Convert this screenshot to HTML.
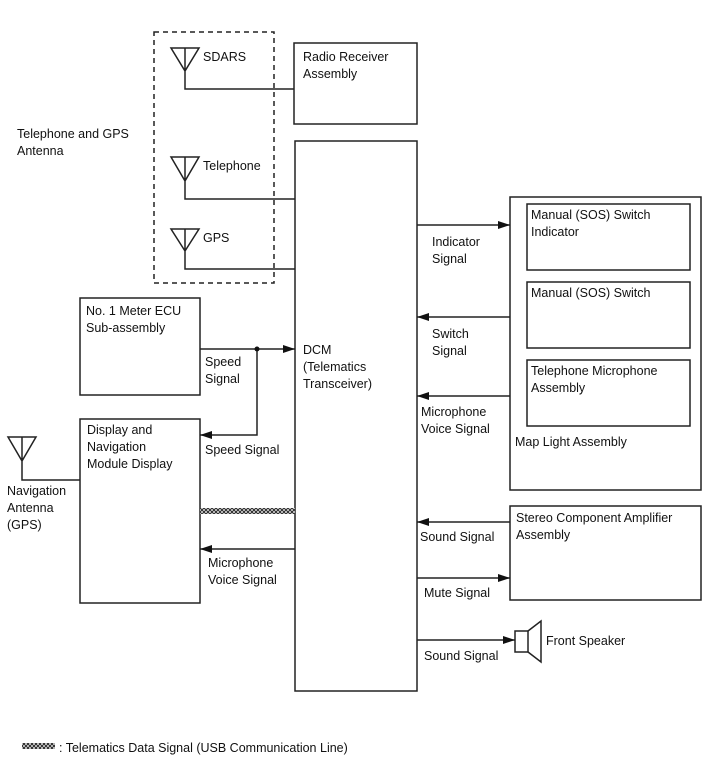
<!DOCTYPE html>
<html><head><meta charset="utf-8"><style>
html,body{margin:0;padding:0;background:#fff}
svg{display:block}
text{font-family:"Liberation Sans",Arial,sans-serif;font-size:12.5px;fill:#111}
</style></head><body>
<svg width="713" height="782" viewBox="0 0 713 782" xmlns="http://www.w3.org/2000/svg">
<defs>
<pattern id="h" width="4" height="4" patternUnits="userSpaceOnUse">
<rect width="4" height="4" fill="#fff"/><path d="M0,0L4,4M4,0L0,4" stroke="#333" stroke-width="1.2"/>
</pattern>
<marker id="a" markerWidth="12" markerHeight="8" refX="12" refY="4" orient="auto" markerUnits="userSpaceOnUse"><path d="M0,0L12,4L0,8z" fill="#111"/></marker>
</defs>
<g fill="none" stroke="#222" stroke-width="1.5">
<rect x="154" y="32" width="120" height="251" stroke-dasharray="5,4"/>
<rect x="294" y="43" width="123" height="81"/>
<rect x="295" y="141" width="122" height="550"/>
<rect x="510" y="197" width="191" height="293"/>
<rect x="527" y="204" width="163" height="66"/>
<rect x="527" y="282" width="163" height="66"/>
<rect x="527" y="360" width="163" height="66"/>
<rect x="510" y="506" width="191" height="94"/>
<rect x="80" y="298" width="120" height="97"/>
<rect x="80" y="419" width="120" height="184"/>
<!-- antennas -->
<path d="M171,48L199,48L185,71z M185,48V89H294"/>
<path d="M171,157L199,157L185,181z M185,157V199H295"/>
<path d="M171,229L199,229L185,251z M185,229V269H295"/>
<path d="M8,437L36,437L22,461z M22,437V480H80"/>
<!-- arrows -->
<path d="M417,225H510" marker-end="url(#a)"/>
<path d="M510,317H417" marker-end="url(#a)"/>
<path d="M510,396H417" marker-end="url(#a)"/>
<path d="M510,522H417" marker-end="url(#a)"/>
<path d="M417,578H510" marker-end="url(#a)"/>
<path d="M417,640H515" marker-end="url(#a)"/>
<path d="M200,349H295" marker-end="url(#a)"/>
<path d="M257,349V435H200" marker-end="url(#a)"/>
<path d="M295,549H200" marker-end="url(#a)"/>
<!-- speaker -->
<rect x="515" y="631" width="13" height="21"/>
<path d="M528,631L541,621V662L528,652"/>
</g>
<circle cx="257" cy="349" r="2.5" fill="#111"/>
<rect x="200" y="508" width="95" height="6" fill="url(#h)"/>
<rect x="22" y="743" width="33" height="6" fill="url(#h)"/>
<text x="203" y="61">SDARS</text>
<text x="203" y="170">Telephone</text>
<text x="203" y="242">GPS</text>
<text x="17" y="138">Telephone and GPS</text>
<text x="17" y="155">Antenna</text>
<text x="303" y="61">Radio Receiver</text>
<text x="303" y="78">Assembly</text>
<text x="86" y="315">No. 1 Meter ECU</text>
<text x="86" y="332">Sub-assembly</text>
<text x="205" y="366">Speed</text>
<text x="205" y="383">Signal</text>
<text x="87" y="434">Display and</text>
<text x="87" y="451">Navigation</text>
<text x="87" y="468">Module Display</text>
<text x="205" y="454">Speed Signal</text>
<text x="7" y="495">Navigation</text>
<text x="7" y="512">Antenna</text>
<text x="7" y="529">(GPS)</text>
<text x="208" y="567">Microphone</text>
<text x="208" y="584">Voice Signal</text>
<text x="303" y="354">DCM</text>
<text x="303" y="371">(Telematics</text>
<text x="303" y="388">Transceiver)</text>
<text x="432" y="246">Indicator</text>
<text x="432" y="263">Signal</text>
<text x="432" y="338">Switch</text>
<text x="432" y="355">Signal</text>
<text x="421" y="416">Microphone</text>
<text x="421" y="433">Voice Signal</text>
<text x="531" y="219">Manual (SOS) Switch</text>
<text x="531" y="236">Indicator</text>
<text x="531" y="297">Manual (SOS) Switch</text>
<text x="531" y="375">Telephone Microphone</text>
<text x="531" y="392">Assembly</text>
<text x="515" y="446">Map Light Assembly</text>
<text x="516" y="522">Stereo Component Amplifier</text>
<text x="516" y="539">Assembly</text>
<text x="420" y="541">Sound Signal</text>
<text x="424" y="597">Mute Signal</text>
<text x="424" y="660">Sound Signal</text>
<text x="546" y="645">Front Speaker</text>
<text x="59" y="752">: Telematics Data Signal (USB Communication Line)</text>
</svg>
</body></html>
